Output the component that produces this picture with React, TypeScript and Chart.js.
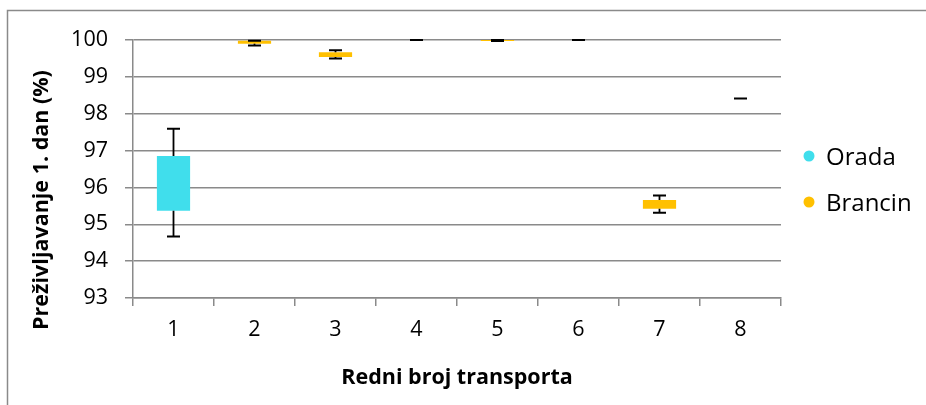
import React, { useEffect, useRef } from "react";
import { Chart, registerables } from "chart.js";

Chart.register(...registerables);

// Transport number on the x axis
const categories = ["1", "2", "3", "4", "5", "6", "7", "8"];

// Gilthead sea bream (Orada): quartile box and min/max whiskers, day-1 survival %
const oradaQ1 = [95.37, null, null, 100, null, 100, null, 98.41];
const oradaQ3 = [96.85, null, null, 100, null, 100, null, 98.41];
const oradaMin = [94.67, null, null, 100, null, 100, null, 98.41];
const oradaMax = [97.59, null, null, 100, null, 100, null, 98.41];

// European sea bass (Brancin)
const brancinQ1 = [null, 99.9, 99.54, null, 99.97, null, 95.42, null];
const brancinQ3 = [null, 99.98, 99.67, null, 100, null, 95.66, null];
const brancinMin = [null, 99.85, 99.5, null, 99.97, null, 95.31, null];
const brancinMax = [null, 99.98, 99.72, null, 100, null, 95.78, null];

const yTicks = [93, 94, 95, 96, 97, 98, 99, 100];

const seriesNames = ["Orada", "Brancin"];
const seriesColors = ["#40DEEC", "#FFC000"];

const FONT = "'Open Sans', 'Noto Sans', sans-serif";
const GRID = "#8a8a8a";

const boxes = (lo: (number | null)[], hi: (number | null)[]) =>
  lo.map((v, i) => (v === null || hi[i] === null ? null : [v, hi[i] as number]));

const whiskers = [
  { min: oradaMin, max: oradaMax, lo: oradaQ1, hi: oradaQ3 },
  { min: brancinMin, max: brancinMax, lo: brancinQ1, hi: brancinQ3 },
];

// Min/max whiskers with caps on top of the quartile boxes
const whiskerPlugin = {
  id: "whiskers",
  afterDatasetsDraw(chart: any) {
    const { ctx } = chart;
    const y = chart.scales.y;
    ctx.save();
    ctx.strokeStyle = "#000";
    whiskers.forEach((w, di) => {
      const meta = chart.getDatasetMeta(di);
      w.min.forEach((mn, i) => {
        const mx = w.max[i];
        if (mn === null || mx === null) return;
        const x = meta.data[i].x;
        const yMin = y.getPixelForValue(mn);
        const yMax = y.getPixelForValue(mx);
        const yLo = y.getPixelForValue(w.lo[i] as number);
        const yHi = y.getPixelForValue(w.hi[i] as number);
        ctx.lineWidth = 1.8;
        ctx.beginPath();
        ctx.moveTo(x, yMin);
        ctx.lineTo(x, yLo);
        ctx.moveTo(x, yHi);
        ctx.lineTo(x, yMax);
        ctx.stroke();
        ctx.lineWidth = 2;
        ctx.beginPath();
        ctx.moveTo(x - 6.5, yMin);
        ctx.lineTo(x + 6.5, yMin);
        ctx.moveTo(x - 6.5, yMax);
        ctx.lineTo(x + 6.5, yMax);
        ctx.stroke();
      });
    });
    ctx.restore();
  },
};

// Frame, axis titles and legend
const decorPlugin = {
  id: "decor",
  beforeDraw(chart: any) {
    const { ctx } = chart;
    ctx.save();
    ctx.fillStyle = "#fff";
    ctx.fillRect(0, 0, chart.width, chart.height);
    ctx.strokeStyle = GRID;
    ctx.lineWidth = 1.5;
    ctx.beginPath();
    ctx.moveTo(7.5, chart.height);
    ctx.lineTo(7.5, 10.5);
    ctx.lineTo(chart.width, 10.5);
    ctx.stroke();
    ctx.restore();
  },
  afterDraw(chart: any) {
    const { ctx, chartArea } = chart;
    ctx.save();
    ctx.fillStyle = "#000";
    ctx.font = `bold 21.5px ${FONT}`;
    ctx.textAlign = "center";
    ctx.textBaseline = "middle";
    ctx.fillText("Redni broj transporta", (chartArea.left + chartArea.right) / 2, 378);
    ctx.save();
    ctx.translate(42, 200);
    ctx.rotate(-Math.PI / 2);
    ctx.fillText("Preživljavanje 1. dan (%)", 0, 0);
    ctx.restore();

    ctx.font = `24px ${FONT}`;
    ctx.textAlign = "left";
    seriesNames.forEach((name, i) => {
      const cy = 156 + i * 46;
      ctx.fillStyle = seriesColors[i];
      ctx.beginPath();
      ctx.arc(809, cy, 5.5, 0, Math.PI * 2);
      ctx.fill();
      ctx.fillStyle = "#000";
      ctx.fillText(name, 826, cy + 2);
    });
    ctx.restore();
  },
};

export default function App() {
  const ref = useRef<HTMLCanvasElement>(null);

  useEffect(() => {
    if (!ref.current) return;
    const chart = new Chart(ref.current, {
      type: "bar",
      data: {
        labels: categories,
        datasets: [
          {
            label: seriesNames[0],
            data: boxes(oradaQ1, oradaQ3) as any,
            backgroundColor: seriesColors[0],
            borderWidth: 0,
            grouped: false,
            barPercentage: 0.41,
            categoryPercentage: 1,
          },
          {
            label: seriesNames[1],
            data: boxes(brancinQ1, brancinQ3) as any,
            backgroundColor: seriesColors[1],
            borderWidth: 0,
            grouped: false,
            barPercentage: 0.41,
            categoryPercentage: 1,
          },
        ],
      },
      options: {
        responsive: false,
        animation: false,
        layout: { padding: { top: 40, right: 145, left: 0, bottom: 0 } },
        plugins: { legend: { display: false }, tooltip: { enabled: false } },
        scales: {
          x: {
            offset: true,
            grid: {
              offset: true,
              drawOnChartArea: false,
              drawTicks: true,
              tickLength: 8,
              color: GRID,
              lineWidth: 1.5,
            },
            border: { color: GRID, width: 1.5 },
            ticks: { color: "#000", font: { family: FONT, size: 21.5 }, padding: 11 },
            afterFit: (s: any) => {
              s.height = 107;
            },
          },
          y: {
            min: 93,
            max: 100,
            afterBuildTicks: (s: any) => {
              s.ticks = yTicks.map((v) => ({ value: v }));
            },
            grid: { color: GRID, lineWidth: 1.5, tickLength: 8 },
            border: { color: GRID, width: 1.5 },
            ticks: { color: "#000", font: { family: FONT, size: 21.5 }, padding: 17 },
            afterFit: (s: any) => {
              s.width = 133;
            },
          },
        },
      },
      plugins: [decorPlugin, whiskerPlugin],
    });
    return () => chart.destroy();
  }, []);

  return (
    <div style={{ position: "absolute", left: 0, top: 0, width: 926, height: 405 }}>
      <canvas ref={ref} width={926} height={405} />
    </div>
  );
}
